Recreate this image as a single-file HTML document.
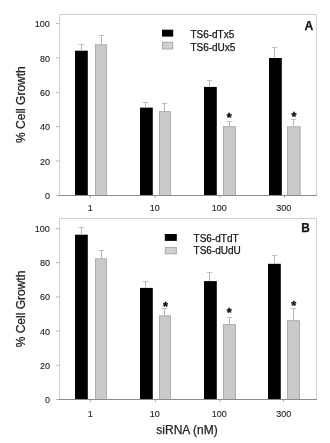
<!DOCTYPE html>
<html><head><meta charset="utf-8"><style>
html,body{margin:0;padding:0;background:#fff;}
svg{display:block;font-family:"Liberation Sans",sans-serif;}
text{stroke:#222;stroke-width:0.25px;}
text.t{stroke-width:0.12px;}
text.s{stroke:#111;stroke-width:0.4px;}
</style></head><body>
<svg width="330" height="443" viewBox="0 0 330 443">
<defs><filter id="bl" x="0" y="0" width="330" height="443" filterUnits="userSpaceOnUse"><feGaussianBlur stdDeviation="0.35"/></filter></defs>
<rect width="330" height="443" fill="#fff"/>
<g filter="url(#bl)">
<path d="M59.5 195.5V14.5H316.5V195.5" fill="none" stroke="#d0d0d0" stroke-width="1"/>
<line x1="56.0" x2="59.5" y1="195.50" y2="195.50" stroke="#bababa" stroke-width="1"/>
<text class="t" x="49.9" y="199.10" text-anchor="end" font-size="9" fill="#222">0</text>
<line x1="56.0" x2="59.5" y1="161.10" y2="161.10" stroke="#bababa" stroke-width="1"/>
<text class="t" x="49.9" y="164.70" text-anchor="end" font-size="9" fill="#222">20</text>
<line x1="56.0" x2="59.5" y1="126.70" y2="126.70" stroke="#bababa" stroke-width="1"/>
<text class="t" x="49.9" y="130.30" text-anchor="end" font-size="9" fill="#222">40</text>
<line x1="56.0" x2="59.5" y1="92.30" y2="92.30" stroke="#bababa" stroke-width="1"/>
<text class="t" x="49.9" y="95.90" text-anchor="end" font-size="9" fill="#222">60</text>
<line x1="56.0" x2="59.5" y1="57.90" y2="57.90" stroke="#bababa" stroke-width="1"/>
<text class="t" x="49.9" y="61.50" text-anchor="end" font-size="9" fill="#222">80</text>
<line x1="56.0" x2="59.5" y1="23.50" y2="23.50" stroke="#bababa" stroke-width="1"/>
<text class="t" x="49.9" y="27.10" text-anchor="end" font-size="9" fill="#222">100</text>
<rect x="75.00" y="50.70" width="12.8" height="144.80" fill="#000"/>
<rect x="95.50" y="44.80" width="11" height="150.70" fill="#cacaca" stroke="#a8a8a8" stroke-width="0.9"/>
<line x1="90.40" x2="90.40" y1="195.5" y2="198.0" stroke="#aaa" stroke-width="1"/>
<text class="t" x="90.20" y="210.90" text-anchor="middle" font-size="9" fill="#222">1</text>
<rect x="140.00" y="107.60" width="12.8" height="87.90" fill="#000"/>
<rect x="159.50" y="111.60" width="11" height="83.90" fill="#cacaca" stroke="#a8a8a8" stroke-width="0.9"/>
<line x1="155.10" x2="155.10" y1="195.5" y2="198.0" stroke="#aaa" stroke-width="1"/>
<text class="t" x="154.70" y="210.90" text-anchor="middle" font-size="9" fill="#222">10</text>
<rect x="204.00" y="86.90" width="12.8" height="108.60" fill="#000"/>
<rect x="223.50" y="126.70" width="12" height="68.80" fill="#cacaca" stroke="#a8a8a8" stroke-width="0.9"/>
<text class="s" x="229.20" y="122.10" text-anchor="middle" font-size="12.6" font-weight="bold" fill="#111">*</text>
<line x1="220.00" x2="220.00" y1="195.5" y2="198.0" stroke="#aaa" stroke-width="1"/>
<text class="t" x="219.20" y="210.90" text-anchor="middle" font-size="9" fill="#222">100</text>
<rect x="269.00" y="58.00" width="12.8" height="137.50" fill="#000"/>
<rect x="287.50" y="126.80" width="12.699999999999989" height="68.70" fill="#cacaca" stroke="#a8a8a8" stroke-width="0.9"/>
<text class="s" x="293.90" y="120.75" text-anchor="middle" font-size="12.6" font-weight="bold" fill="#111">*</text>
<line x1="284.40" x2="284.40" y1="195.5" y2="198.0" stroke="#aaa" stroke-width="1"/>
<text class="t" x="283.70" y="210.90" text-anchor="middle" font-size="9" fill="#222">300</text>
<line x1="59.0" x2="317.0" y1="195.5" y2="195.5" stroke="#8c8c8c" stroke-width="1"/>
<rect x="162" y="29.7" width="11.2" height="6.9" fill="#000"/>
<rect x="162.5" y="42.3" width="10.2" height="6.7" fill="#d0d0d0" stroke="#a8a8a8" stroke-width="1"/>
<text x="190.4" y="38.3" font-size="10" fill="#111">TS6-dTx5</text>
<text x="190.4" y="51.0" font-size="10" fill="#111">TS6-dUx5</text>
<text x="304.4" y="29.95" font-size="12.2" font-weight="bold" fill="#111">A</text>
<text transform="translate(25.3 104.6) rotate(-90)" text-anchor="middle" font-size="12" fill="#222">% Cell Growth</text>
<path d="M59.5 399.5V218.5H316.5V399.5" fill="none" stroke="#d0d0d0" stroke-width="1"/>
<line x1="56.0" x2="59.5" y1="399.50" y2="399.50" stroke="#bababa" stroke-width="1"/>
<text class="t" x="49.9" y="403.00" text-anchor="end" font-size="9" fill="#222">0</text>
<line x1="56.0" x2="59.5" y1="365.30" y2="365.30" stroke="#bababa" stroke-width="1"/>
<text class="t" x="49.9" y="368.80" text-anchor="end" font-size="9" fill="#222">20</text>
<line x1="56.0" x2="59.5" y1="331.10" y2="331.10" stroke="#bababa" stroke-width="1"/>
<text class="t" x="49.9" y="334.60" text-anchor="end" font-size="9" fill="#222">40</text>
<line x1="56.0" x2="59.5" y1="296.90" y2="296.90" stroke="#bababa" stroke-width="1"/>
<text class="t" x="49.9" y="300.40" text-anchor="end" font-size="9" fill="#222">60</text>
<line x1="56.0" x2="59.5" y1="262.70" y2="262.70" stroke="#bababa" stroke-width="1"/>
<text class="t" x="49.9" y="266.20" text-anchor="end" font-size="9" fill="#222">80</text>
<line x1="56.0" x2="59.5" y1="228.50" y2="228.50" stroke="#bababa" stroke-width="1"/>
<text class="t" x="49.9" y="232.00" text-anchor="end" font-size="9" fill="#222">100</text>
<rect x="75.00" y="234.70" width="12.8" height="164.80" fill="#000"/>
<rect x="95.50" y="258.80" width="11" height="140.70" fill="#cacaca" stroke="#a8a8a8" stroke-width="0.9"/>
<line x1="90.70" x2="90.70" y1="399.5" y2="402.0" stroke="#aaa" stroke-width="1"/>
<text class="t" x="90.20" y="416.50" text-anchor="middle" font-size="9" fill="#222">1</text>
<rect x="140.00" y="287.90" width="12.8" height="111.60" fill="#000"/>
<rect x="159.50" y="315.80" width="11" height="83.70" fill="#cacaca" stroke="#a8a8a8" stroke-width="0.9"/>
<text class="s" x="165.50" y="310.75" text-anchor="middle" font-size="12.6" font-weight="bold" fill="#111">*</text>
<line x1="155.30" x2="155.30" y1="399.5" y2="402.0" stroke="#aaa" stroke-width="1"/>
<text class="t" x="154.70" y="416.50" text-anchor="middle" font-size="9" fill="#222">10</text>
<rect x="204.00" y="281.10" width="12.8" height="118.40" fill="#000"/>
<rect x="223.50" y="324.60" width="12" height="74.90" fill="#cacaca" stroke="#a8a8a8" stroke-width="0.9"/>
<text class="s" x="229.20" y="317.25" text-anchor="middle" font-size="12.6" font-weight="bold" fill="#111">*</text>
<line x1="220.00" x2="220.00" y1="399.5" y2="402.0" stroke="#aaa" stroke-width="1"/>
<text class="t" x="219.20" y="416.50" text-anchor="middle" font-size="9" fill="#222">100</text>
<rect x="268.00" y="263.80" width="12.8" height="135.70" fill="#000"/>
<rect x="287.50" y="320.70" width="12" height="78.80" fill="#cacaca" stroke="#a8a8a8" stroke-width="0.9"/>
<text class="s" x="293.60" y="309.55" text-anchor="middle" font-size="12.6" font-weight="bold" fill="#111">*</text>
<line x1="283.40" x2="283.40" y1="399.5" y2="402.0" stroke="#aaa" stroke-width="1"/>
<text class="t" x="283.70" y="416.50" text-anchor="middle" font-size="9" fill="#222">300</text>
<line x1="59.0" x2="317.0" y1="399.5" y2="399.5" stroke="#8c8c8c" stroke-width="1"/>
<rect x="164.8" y="234" width="12" height="6.9" fill="#000"/>
<rect x="165.3" y="247.4" width="11" height="6.4" fill="#d0d0d0" stroke="#a8a8a8" stroke-width="1"/>
<text x="193.6" y="241.5" font-size="10" fill="#111">TS6-dTdT</text>
<text x="193.6" y="253.8" font-size="10" fill="#111">TS6-dUdU</text>
<text x="301.3" y="232" font-size="11.9" font-weight="bold" fill="#111">B</text>
<text transform="translate(25.3 309) rotate(-90)" text-anchor="middle" font-size="12" fill="#222">% Cell Growth</text>
<text x="187" y="433.8" text-anchor="middle" font-size="12" fill="#222">siRNA (nM)</text>
</g>
<path d="M81.50 50.70V44.50" stroke="#b6b6b6" stroke-width="1" fill="none"/><path d="M78.80 44.50H84.20" stroke="#bebebe" stroke-width="1" fill="none"/>
<path d="M101.50 44.30V35.50" stroke="#b6b6b6" stroke-width="1" fill="none"/><path d="M98.80 35.50H104.20" stroke="#bebebe" stroke-width="1" fill="none"/>
<path d="M145.50 107.60V102.50" stroke="#b6b6b6" stroke-width="1" fill="none"/><path d="M142.80 102.50H148.20" stroke="#bebebe" stroke-width="1" fill="none"/>
<path d="M164.50 111.10V103.50" stroke="#b6b6b6" stroke-width="1" fill="none"/><path d="M161.80 103.50H167.20" stroke="#bebebe" stroke-width="1" fill="none"/>
<path d="M209.50 86.90V80.50" stroke="#b6b6b6" stroke-width="1" fill="none"/><path d="M206.80 80.50H212.20" stroke="#bebebe" stroke-width="1" fill="none"/>
<path d="M229.50 126.20V121.50" stroke="#b6b6b6" stroke-width="1" fill="none"/><path d="M226.80 121.50H232.20" stroke="#bebebe" stroke-width="1" fill="none"/>
<path d="M274.50 58.00V47.50" stroke="#b6b6b6" stroke-width="1" fill="none"/><path d="M271.80 47.50H277.20" stroke="#bebebe" stroke-width="1" fill="none"/>
<path d="M293.50 126.30V119.50" stroke="#b6b6b6" stroke-width="1" fill="none"/><path d="M290.80 119.50H296.20" stroke="#bebebe" stroke-width="1" fill="none"/>
<path d="M81.50 234.70V227.50" stroke="#b6b6b6" stroke-width="1" fill="none"/><path d="M78.80 227.50H84.20" stroke="#bebebe" stroke-width="1" fill="none"/>
<path d="M101.50 258.30V250.50" stroke="#b6b6b6" stroke-width="1" fill="none"/><path d="M98.80 250.50H104.20" stroke="#bebebe" stroke-width="1" fill="none"/>
<path d="M145.50 287.90V281.50" stroke="#b6b6b6" stroke-width="1" fill="none"/><path d="M142.80 281.50H148.20" stroke="#bebebe" stroke-width="1" fill="none"/>
<path d="M164.50 315.30V308.50" stroke="#b6b6b6" stroke-width="1" fill="none"/><path d="M161.80 308.50H167.20" stroke="#bebebe" stroke-width="1" fill="none"/>
<path d="M209.50 281.10V272.50" stroke="#b6b6b6" stroke-width="1" fill="none"/><path d="M206.80 272.50H212.20" stroke="#bebebe" stroke-width="1" fill="none"/>
<path d="M229.50 324.10V317.50" stroke="#b6b6b6" stroke-width="1" fill="none"/><path d="M226.80 317.50H232.20" stroke="#bebebe" stroke-width="1" fill="none"/>
<path d="M274.50 263.80V255.50" stroke="#b6b6b6" stroke-width="1" fill="none"/><path d="M271.80 255.50H277.20" stroke="#bebebe" stroke-width="1" fill="none"/>
<path d="M293.50 320.20V308.50" stroke="#b6b6b6" stroke-width="1" fill="none"/><path d="M290.80 308.50H296.20" stroke="#bebebe" stroke-width="1" fill="none"/>
</svg>
</body></html>
